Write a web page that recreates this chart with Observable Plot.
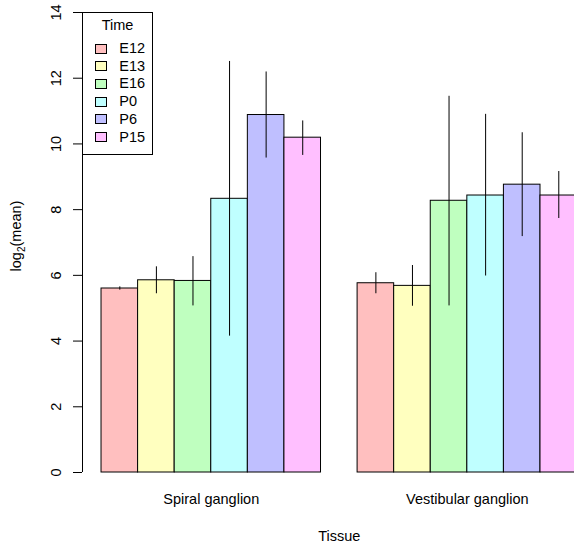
<!DOCTYPE html>
<html>
<head>
<meta charset="utf-8">
<script src="https://cdn.jsdelivr.net/npm/d3@7"></script>
<script src="https://cdn.jsdelivr.net/npm/@observablehq/plot@0.6"></script>
<style>
  html, body { margin: 0; padding: 0; background: white; }
  #chart { position: relative; width: 574px; height: 544px; overflow: hidden; }
</style>
</head>
<body>
<div id="chart"></div>
<script>
// ---- data ----
const tissues = ["Spiral ganglion", "Vestibular ganglion"];
const times = ["E12", "E13", "E16", "P0", "P6", "P15"];
const colors = ["#FFBFBF", "#FFFFBF", "#BFFFBF", "#BFFFFF", "#BFBFFF", "#FFBFFF"];
const spiralMean = [5.60, 5.85, 5.83, 8.33, 10.88, 10.19];
const spiralLow  = [5.55, 5.44, 5.07, 4.15, 9.57, 9.65];
const spiralHigh = [5.65, 6.26, 6.57, 12.51, 12.19, 10.70];
const vestibularMean = [5.76, 5.68, 8.27, 8.43, 8.76, 8.43];
const vestibularLow  = [5.44, 5.06, 5.07, 5.98, 7.18, 7.73];
const vestibularHigh = [6.08, 6.30, 11.45, 10.90, 10.34, 9.16];
const yTicks = [0, 2, 4, 6, 8, 10, 12, 14];
const xLabel = "Tissue";
const legendTitle = "Time";

// ---- layout (R barplot, beside=TRUE: space 0 within group, 1 between) ----
const means = [spiralMean, vestibularMean];
const lows = [spiralLow, vestibularLow];
const highs = [spiralHigh, vestibularHigh];
const nT = times.length;
const rows = [];
tissues.forEach((t, g) => times.forEach((tm, j) => rows.push({
  tissue: t, time: tm, pos: 1 + g * (nT + 1) + j,
  mean: means[g][j], lo: lows[g][j], hi: highs[g][j]
})));
const xMin = 1, xMax = 1 + tissues.length * (nT + 1) - 1;
const pad = 0.04 * (xMax - xMin);
const xDomain = [xMin - pad, xMax + pad];
const groupCenters = tissues.map((t, g) => 1 + g * (nT + 1) + nT / 2);

const FONT = "'Liberation Sans', Arial, Helvetica, sans-serif";
const FS = 14.5;

const plot = Plot.plot({
  width: 574,
  height: 544,
  marginLeft: 82,
  marginRight: -21.6,
  marginTop: 12,
  marginBottom: 72,
  x: { domain: xDomain, axis: null },
  y: { domain: [0, 14], axis: null },
  color: { domain: times, range: colors },
  style: { fontFamily: FONT, fontSize: FS + "px", background: "white", color: "black" },
  marks: [
    Plot.rect(rows, { x1: "pos", x2: d => d.pos + 1, y1: 0, y2: "mean", fill: "time", stroke: "black", strokeWidth: 1 }),
    Plot.ruleX(rows, { x: d => d.pos + 0.5, y1: "lo", y2: "hi", stroke: "black", strokeWidth: 1 }),
    Plot.ruleX([xDomain[0]], { y1: yTicks[0], y2: yTicks[yTicks.length - 1], stroke: "black" }),
    Plot.axisY({ ticks: yTicks, tickSize: 9, tickRotate: -90, tickPadding: 13, fontSize: FS, stroke: "black", fill: "black" }),
    Plot.text(tissues, { x: (d, i) => groupCenters[i], y: 0, dy: 27, lineAnchor: "middle", fontSize: FS, fill: "black", text: d => d }),
    Plot.text([xLabel], { x: (xDomain[0] + xDomain[1]) / 2, y: 0, dy: 64, lineAnchor: "middle", fontSize: FS, fill: "black", text: d => d })
  ]
});
document.getElementById("chart").appendChild(plot);

// ---- y label with subscript ----
const svg = d3.select(plot);
const yl = svg.append("text")
  .attr("transform", "translate(21,236) rotate(-90)")
  .attr("text-anchor", "middle")
  .attr("font-family", FONT)
  .attr("font-size", FS)
  .attr("fill", "black");
yl.append("tspan").text("log");
yl.append("tspan").attr("font-size", 10).attr("dy", 4).text("2");
yl.append("tspan").attr("dy", -4).text("(mean)");

// ---- legend (top-left, inside plot) ----
const lg = svg.append("g").attr("font-family", FONT).attr("font-size", FS).attr("fill", "black");
lg.append("rect").attr("x", 82.5).attr("y", 12.5).attr("width", 70).attr("height", 142)
  .attr("fill", "white").attr("stroke", "black");
lg.append("text").attr("x", 117.5).attr("y", 30).attr("text-anchor", "middle").text(legendTitle);
times.forEach((t, i) => {
  const cy = 48 + i * 17.7;
  lg.append("rect").attr("x", 95.5).attr("y", Math.round(cy - 4.5) + 0.5).attr("width", 11).attr("height", 9)
    .attr("fill", colors[i]).attr("stroke", "black");
  lg.append("text").attr("x", 119.3).attr("y", cy + 5).attr("text-anchor", "start").text(t);
});
</script>
</body>
</html>
